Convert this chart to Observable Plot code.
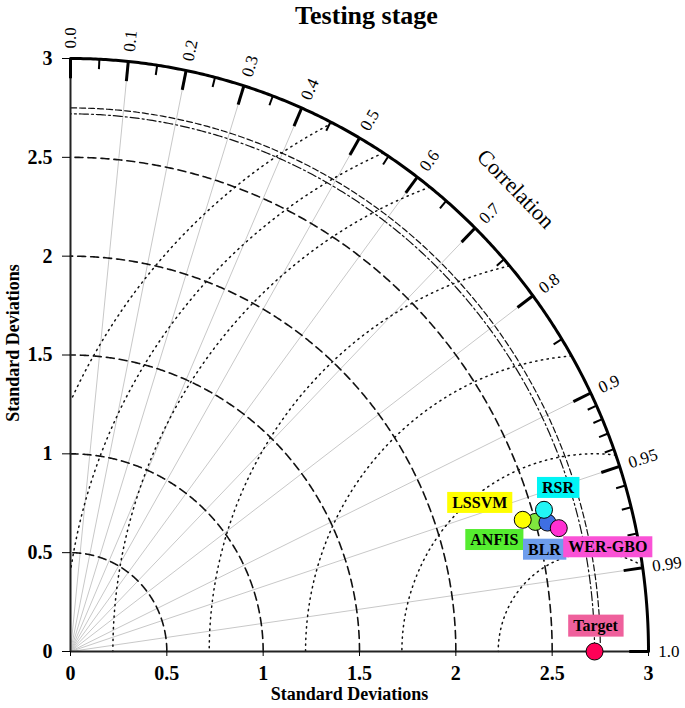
<!DOCTYPE html>
<html><head><meta charset="utf-8">
<script src="https://cdn.jsdelivr.net/npm/d3@7"></script>
<script src="https://cdn.jsdelivr.net/npm/@observablehq/plot@0.6"></script>
<style>body{margin:0;background:#fff}</style>
</head><body><div id="chart"></div>
<script>
// ---- data ----
const title = "Testing stage";
const models = ["ANFIS", "BLR", "LSSVM", "RSR", "WER-GBO", "Target"];
const stdDevs = [2.50, 2.56, 2.44, 2.56, 2.61, 2.72];
const correlations = [0.965, 0.967, 0.962, 0.960, 0.971, 1.0];
const pointColors = ["#80e63e", "#3f6fe3", "#ffff00", "#22f5f5", "#ff30d2", "#ff0057"];
const labelColors = ["#55ec30", "#6e9dec", "#ffff00", "#00f5f5", "#fa52d6", "#ef609c"];
const sdTicks = [0, 0.5, 1, 1.5, 2, 2.5, 3];
const sdArcs = [0.5, 1, 1.5, 2, 2.5];
const rmsArcs = [0.5, 1, 1.5, 2, 2.5, 2.75, 3];
const refDashDot = [2.72];
const refDashed = [2.75];
const corrMajor = [0, 0.1, 0.2, 0.3, 0.4, 0.5, 0.6, 0.7, 0.8, 0.9, 0.95, 0.99, 1.0];
const corrMinor = [0.05, 0.15, 0.25, 0.35, 0.45, 0.55, 0.65, 0.75, 0.85, 0.91, 0.92, 0.93, 0.94, 0.96, 0.97, 0.98];
const corrLines = [0.1, 0.2, 0.3, 0.4, 0.5, 0.6, 0.7, 0.8, 0.9, 0.95, 0.99];
const corrLabels = ["0.0","0.1","0.2","0.3","0.4","0.5","0.6","0.7","0.8","0.9","0.95","0.99","1.0"];
const maxSd = 3;

// ---- geometry helpers ----
const refSd = stdDevs[models.indexOf("Target")];
function arc(r, id) {
  const pts = [];
  for (let a = 0; a <= 90.0001; a += 0.25) {
    const t = a * Math.PI / 180;
    pts.push({x: r * Math.cos(t), y: r * Math.sin(t), id});
  }
  return pts;
}
function rmsArc(r) {
  const pts = [];
  for (let a = 0; a <= 180.0001; a += 0.1) {
    const t = a * Math.PI / 180;
    const x = refSd + r * Math.cos(t), y = r * Math.sin(t);
    if (x >= 0 && y >= 0 && x * x + y * y <= maxSd * maxSd + 1e-9) pts.push({x, y, id: r});
  }
  return pts;
}
const polar = (r, c) => ({x: r * c, y: r * Math.sqrt(Math.max(0, 1 - c * c))});

const points = models.map((m, i) => ({m, i, ...polar(stdDevs[i], correlations[i])}));
const radial = corrLines.flatMap(c => [{...polar(0, c), c}, {...polar(maxSd, c), c}]);
const majorTicks = corrMajor.map(c => ({a: polar(maxSd - 0.1, c), b: polar(maxSd, c)}));
const minorTicks = corrMinor.map(c => ({a: polar(maxSd - 0.05, c), b: polar(maxSd, c)}));
const corrText = corrMajor.map((c, i) => ({...polar(maxSd + 0.05, c), label: corrLabels[i], rot: -Math.acos(c) * 180 / Math.PI}));

const labelOffsets = {
  "LSSVM": [-43, -17], "RSR": [14, -22], "ANFIS": [-41, 18],
  "BLR": [-3, 27], "WER-GBO": [49, 19], "Target": [1, -26]
};
const font = "'Liberation Serif', 'Times New Roman', serif";

const chart = Plot.plot({
  width: 685, height: 708,
  marginLeft: 70, marginRight: 37, marginTop: 58, marginBottom: 57,
  x: {domain: [0, 3]}, y: {domain: [0, 3]},
  style: {fontFamily: font, background: "#fff", color: "#000"},
  marks: [
    Plot.line(radial, {x: "x", y: "y", z: "c", stroke: "#c8c8c8", strokeWidth: 1}),
    Plot.line(rmsArcs.flatMap(rmsArc), {x: "x", y: "y", z: "id", stroke: "#111", strokeWidth: 1.5, strokeDasharray: "1.3,4.5"}),
    Plot.line(sdArcs.flatMap(r => arc(r, r)), {x: "x", y: "y", z: "id", stroke: "#111", strokeWidth: 1.6, strokeDasharray: "8,5"}),
    Plot.line(refDashDot.flatMap(r => arc(r, r)), {x: "x", y: "y", z: "id", stroke: "#111", strokeWidth: 1.2, strokeDasharray: "9,3,2,3"}),
    Plot.line(refDashed.flatMap(r => arc(r, r)), {x: "x", y: "y", z: "id", stroke: "#111", strokeWidth: 1.2, strokeDasharray: "6,3"}),
    Plot.ruleY([0], {x1: 0, x2: maxSd, stroke: "#222", strokeWidth: 2}),
    Plot.ruleX([0], {y1: 0, y2: maxSd, stroke: "#222", strokeWidth: 2}),
    Plot.axisX({ticks: sdTicks, tickSize: 5, tickPadding: 9, fontSize: 20, fontWeight: "bold", label: null, tickFormat: d3.format("")}),
    Plot.axisY({ticks: sdTicks, tickSize: 8, tickPadding: 10, fontSize: 20, fontWeight: "bold", label: null, tickFormat: d3.format("")}),
    Plot.line(arc(maxSd, "outer"), {x: "x", y: "y", stroke: "#000", strokeWidth: 3}),
    Plot.link(majorTicks, {x1: d => d.a.x, y1: d => d.a.y, x2: d => d.b.x, y2: d => d.b.y, stroke: "#000", strokeWidth: 3}),
    Plot.link(minorTicks, {x1: d => d.a.x, y1: d => d.a.y, x2: d => d.b.x, y2: d => d.b.y, stroke: "#000", strokeWidth: 2}),
    Plot.text(corrText, {x: "x", y: "y", text: "label", rotate: "rot", textAnchor: "start", fontSize: 17, fill: "#000"}),
    Plot.text(["Correlation"], {x: 2.31, y: 2.34, rotate: 46, fontSize: 22, fill: "#000"}),
    Plot.dot(points, {x: "x", y: "y", r: 8.5, fill: d => pointColors[d.i], stroke: "#000", strokeWidth: 1}),
    ...points.map(p => Plot.text([p.i], {
      x: () => p.x, y: () => p.y, text: () => p.m,
      dx: labelOffsets[p.m][0], dy: labelOffsets[p.m][1],
      fontSize: 16, fontWeight: "bold", fill: "#000", className: "lbl-" + p.i
    })),
    Plot.text([title], {frameAnchor: "top", lineAnchor: "middle", dx: 7, dy: -43, fontSize: 26, fontWeight: "bold", fill: "#000"}),
    Plot.text(["Standard Deviations"], {frameAnchor: "bottom", lineAnchor: "middle", textAnchor: "middle", dx: -10, dy: 43, fontSize: 18, fontWeight: "bold", fill: "#000"}),
    Plot.text(["Standard Deviations"], {frameAnchor: "left", textAnchor: "middle", lineAnchor: "middle", rotate: -90, dx: -57, dy: -12, fontSize: 18, fontWeight: "bold", fill: "#000"})
  ]
});
document.getElementById("chart").append(chart);

// colored boxes behind the model labels
points.forEach(p => {
  d3.select(chart).selectAll(`g.lbl-${p.i} text`).each(function() {
    const bb = this.getBBox();
    const r = d3.select(this.parentNode).insert("rect", () => this)
      .attr("x", bb.x - 5).attr("y", bb.y - 2)
      .attr("width", bb.width + 10).attr("height", bb.height + 4)
      .attr("fill", labelColors[p.i]);
    const tr = this.getAttribute("transform");
    if (tr) r.attr("transform", tr);
  });
});
</script>
</body></html>
